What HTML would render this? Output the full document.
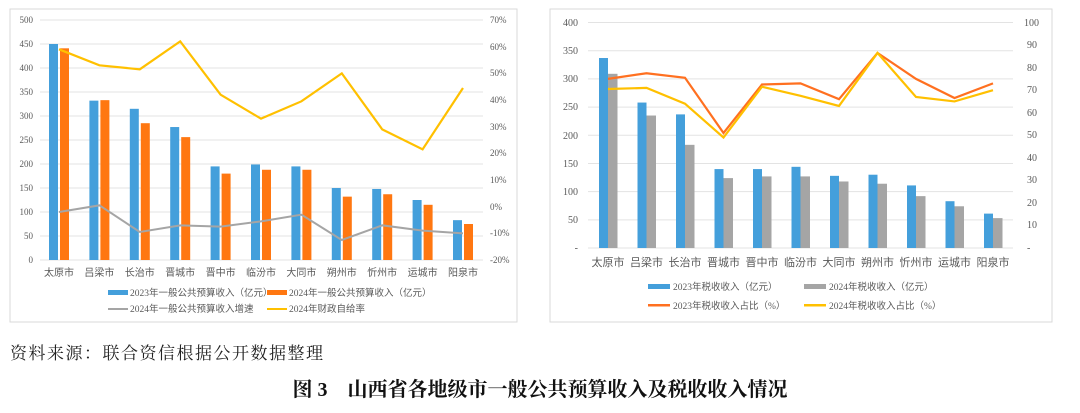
<!DOCTYPE html>
<html><head><meta charset="utf-8"><style>
body{margin:0;width:1080px;height:413px;background:#fff;overflow:hidden;font-family:"Liberation Serif","Noto Serif CJK SC",serif}
svg{position:absolute;left:0;top:0}
.t{font-family:"Liberation Serif","Noto Sans CJK SC",sans-serif;fill:#595959}
</style></head><body>
<svg id="s" width="1080" height="413" xmlns="http://www.w3.org/2000/svg">
<rect x="10" y="9" width="507" height="313" fill="#fff" stroke="#d9d9d9"/>
<rect x="550" y="9" width="502" height="313" fill="#fff" stroke="#d9d9d9"/>
<g id="g"></g>
<g class="t" font-size="9" text-anchor="end">
<text x="33" y="23">500</text><text x="33" y="47">450</text><text x="33" y="71">400</text><text x="33" y="95">350</text><text x="33" y="119">300</text><text x="33" y="143">250</text><text x="33" y="167">200</text><text x="33" y="191">150</text><text x="33" y="215">100</text><text x="33" y="239">50</text><text x="33" y="263">0</text>
</g>
<g class="t" font-size="9" text-anchor="start">
<text x="490" y="23">70%</text><text x="490" y="50">60%</text><text x="490" y="76">50%</text><text x="490" y="103">40%</text><text x="490" y="130">30%</text><text x="490" y="156">20%</text><text x="490" y="183">10%</text><text x="490" y="210">0%</text><text x="490" y="236">-10%</text><text x="490" y="263">-20%</text>
</g>
<g class="t" font-size="10" text-anchor="middle">
<text x="59" y="276">太原市</text><text x="99.4" y="276">吕梁市</text><text x="139.8" y="276">长治市</text><text x="180.2" y="276">晋城市</text><text x="220.6" y="276">晋中市</text><text x="261" y="276">临汾市</text><text x="301.4" y="276">大同市</text><text x="341.8" y="276">朔州市</text><text x="382.2" y="276">忻州市</text><text x="422.6" y="276">运城市</text><text x="463" y="276">阳泉市</text>
</g>
<g class="t" font-size="9.5">
<rect x="108" y="290" width="20" height="5" fill="#449fdb"/><text x="130" y="296">2023年一般公共预算收入（亿元）</text>
<rect x="267" y="290" width="20" height="5" fill="#ff7711"/><text x="289" y="296">2024年一般公共预算收入（亿元）</text>
<rect x="108" y="308" width="20" height="2" fill="#a5a5a5"/><text x="130" y="312">2024年一般公共预算收入增速</text>
<rect x="267" y="308" width="20" height="2" fill="#ffc000"/><text x="289" y="312">2024年财政自给率</text>
</g>
<g class="t" font-size="10" text-anchor="end">
<text x="578" y="26">400</text><text x="578" y="54">350</text><text x="578" y="82">300</text><text x="578" y="110">250</text><text x="578" y="139">200</text><text x="578" y="167">150</text><text x="578" y="195">100</text><text x="578" y="223">50</text><text x="578" y="251">-</text>
</g>
<g class="t" font-size="10" text-anchor="start">
<text x="1024" y="26">100</text><text x="1027" y="48">90</text><text x="1027" y="71">80</text><text x="1027" y="93">70</text><text x="1027" y="116">60</text><text x="1027" y="138">50</text><text x="1027" y="161">40</text><text x="1027" y="183">30</text><text x="1027" y="206">20</text><text x="1027" y="228">10</text><text x="1027" y="251">-</text>
</g>
<g class="t" font-size="11" text-anchor="middle">
<text x="608" y="266">太原市</text><text x="646.5" y="266">吕梁市</text><text x="685" y="266">长治市</text><text x="723.5" y="266">晋城市</text><text x="762" y="266">晋中市</text><text x="800.5" y="266">临汾市</text><text x="839" y="266">大同市</text><text x="877.5" y="266">朔州市</text><text x="916" y="266">忻州市</text><text x="954.5" y="266">运城市</text><text x="993" y="266">阳泉市</text>
</g>
<g class="t" font-size="9.5">
<rect x="648" y="284" width="22" height="5" fill="#449fdb"/><text x="673" y="290">2023年税收收入（亿元）</text>
<rect x="804" y="284" width="22" height="5" fill="#a5a5a5"/><text x="829" y="290">2024年税收收入（亿元）</text>
<rect x="648" y="304" width="22" height="2.5" fill="#ff7020"/><text x="673" y="309">2023年税收收入占比（%）</text>
<rect x="804" y="304" width="22" height="2.5" fill="#ffc000"/><text x="829" y="309">2024年税收收入占比（%）</text>
</g>
<text x="10" y="359" font-size="17" fill="#222" font-family="'Liberation Serif','Noto Serif CJK SC',serif" letter-spacing="1.5">资料来源：联合资信根据公开数据整理</text>
<text x="540" y="396" font-size="20" font-weight="bold" fill="#111" text-anchor="middle" font-family="'Liberation Serif','Noto Serif CJK SC',serif">图 3　山西省各地级市一般公共预算收入及税收收入情况</text>
</svg>
<script>
var g=document.getElementById('g'),h='';
for(var v=0;v<=500;v+=50){var y=260-v*0.48;h+='<line x1="40" x2="483" y1="'+y+'" y2="'+y+'" stroke="#e3e3e3"/>';}
var b1=[450,332,315,277,195,199,195,150,148,125,83],b2=[441,333,285,256,180,188,188,132,137,115,75];
var yl=[59,53,51.5,62,42,33,39.5,50,29,21.5,44.5],gr=[-2,0.5,-9.5,-7,-7.5,-5.5,-3,-12.5,-7,-9,-10];
var py=function(p){return 260-(p+20)*240/90};
var pY='',pG='';
for(var i=0;i<11;i++){var c=59+i*40.4;
h+='<rect x="'+(c-10)+'" y="'+(260-b1[i]*0.48)+'" width="9" height="'+(b1[i]*0.48)+'" fill="#449fdb"/>';
h+='<rect x="'+(c+1)+'" y="'+(260-b2[i]*0.48)+'" width="9" height="'+(b2[i]*0.48)+'" fill="#ff7711"/>';
pY+=c+','+py(yl[i])+' ';pG+=c+','+py(gr[i])+' ';}
h+='<polyline points="'+pY+'" fill="none" stroke="#ffc000" stroke-width="2.2"/>';
h+='<polyline points="'+pG+'" fill="none" stroke="#a5a5a5" stroke-width="2"/>';
var k=225.5/400;
for(var v=0;v<=400;v+=50){var y=248-v*k;h+='<line x1="588" x2="1013" y1="'+y+'" y2="'+y+'" stroke="#e3e3e3"/>';}
var c1=[337,258,237,140,140,144,128,130,111,83,61],c2=[309,235,183,124,127,127,118,114,92,74,53];
var o=[75,77.5,75.5,51,72.5,73,66,86.5,75,66.5,73],yy=[70.5,71,64,49,71.5,67.5,63,86.5,67,65,70];
var qy=function(p){return 248-p*2.255};var pO='',pY2='';
for(var i=0;i<11;i++){var c=608+i*38.5;
h+='<rect x="'+(c-9)+'" y="'+(248-c1[i]*k)+'" width="9" height="'+(c1[i]*k)+'" fill="#449fdb"/>';
h+='<rect x="'+c+'" y="'+(248-c2[i]*k)+'" width="9.5" height="'+(c2[i]*k)+'" fill="#a5a5a5"/>';
pO+=c+','+qy(o[i])+' ';pY2+=c+','+qy(yy[i])+' ';}
h+='<polyline points="'+pO+'" fill="none" stroke="#ff7020" stroke-width="2.2"/>';
h+='<polyline points="'+pY2+'" fill="none" stroke="#ffc000" stroke-width="2.2"/>';
g.innerHTML=h;
</script>
</body></html>
